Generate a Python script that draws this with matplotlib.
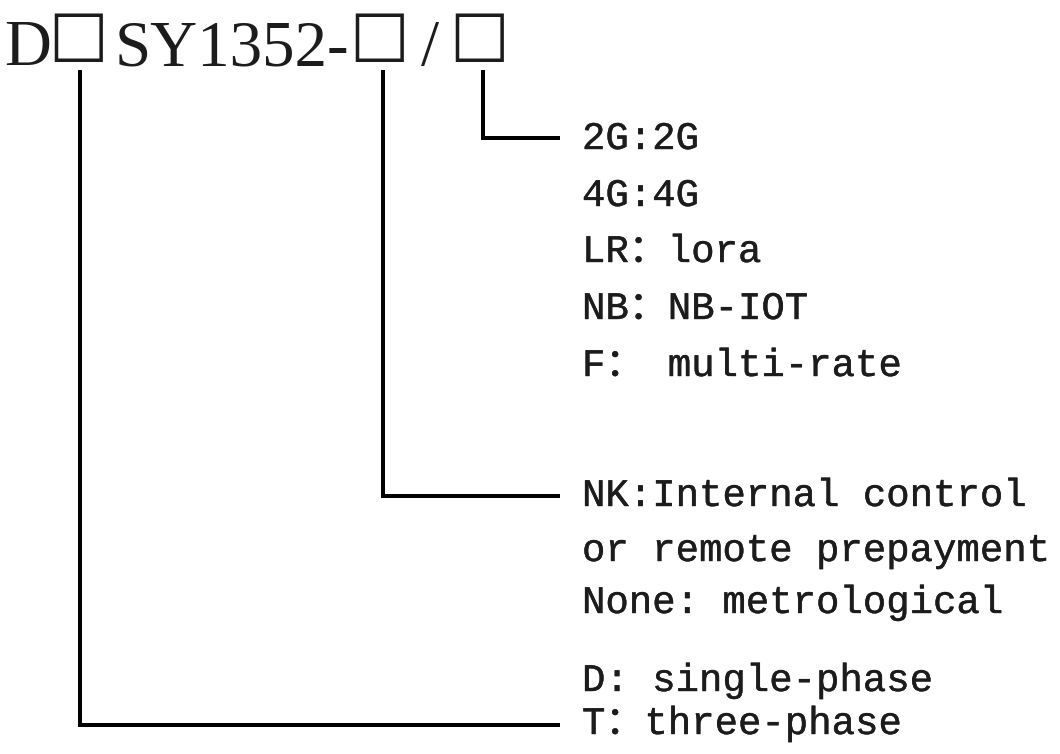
import matplotlib
matplotlib.use("Agg")
import matplotlib.pyplot as plt
import matplotlib.patheffects as pe

# ---- content ----
title_parts = ["D", "□", "SY1352-", "□", "/", "□"]
title_x = [4, 78.5, 115, 379, 430, 479]          # left edge for text, centre for boxes and slash
title_kind = ["txt", "box", "txt", "box", "slash", "box"]

comm_labels = ["2G:2G", "4G:4G", "LR：lora", "NB：NB-IOT", "F： multi-rate"]
comm_baselines = [149, 206, 262, 319, 376]

ctrl_labels = ["NK:Internal control", "or remote prepayment", "None: metrological"]
ctrl_baselines = [506, 561, 613]

phase_labels = ["D: single-phase", "T：three-phase"]
phase_baselines = [691, 734]

# connector lines: (x of vertical, y of horizontal)
conn_x = [483, 383, 80]
conn_y = [138, 496, 725]
conn_top = 70
conn_end = 560

W, H, DPI = 1060, 754, 100
fig = plt.figure(figsize=(W / DPI, H / DPI), dpi=DPI)
ax = fig.add_axes([0, 0, 1, 1])
ax.set_xlim(0, W)
ax.set_ylim(H, 0)
ax.axis("off")

def px2pt(px):
    return px * 72 / DPI

txt_color = "#1c1c1c"
body_family = ["Liberation Mono", "Noto Sans CJK SC", "DejaVu Sans"]
body_size = px2pt(39)
thicken = [pe.withStroke(linewidth=0.3, foreground=txt_color)]

# title
for part, x, kind in zip(title_parts, title_x, title_kind):
    if kind == "txt":
        ax.text(x, 65, part, family=["Liberation Serif"], fontsize=px2pt(65),
                ha="left", va="baseline", color=txt_color)
    elif kind == "slash":
        ax.text(x, 65, part, family=["Liberation Serif"], fontsize=px2pt(65),
                ha="center", va="baseline", color=txt_color)
    else:
        ax.text(x, 31, part, family=["DejaVu Sans"], fontsize=px2pt(63),
                ha="center", va="center_baseline", color=txt_color)

# connectors
for cx, cy in zip(conn_x, conn_y):
    ax.plot([cx, cx, conn_end], [conn_top, cy, cy], color="black", lw=px2pt(4),
            solid_joinstyle="miter", solid_capstyle="butt")

# labels
for labels, bases in [(comm_labels, comm_baselines), (ctrl_labels, ctrl_baselines),
                      (phase_labels, phase_baselines)]:
    for lab, b in zip(labels, bases):
        ax.text(582, b, lab, family=body_family, fontsize=body_size,
                ha="left", va="baseline", color=txt_color, path_effects=thicken)

fig.savefig("out.png", dpi=DPI, facecolor="white")
